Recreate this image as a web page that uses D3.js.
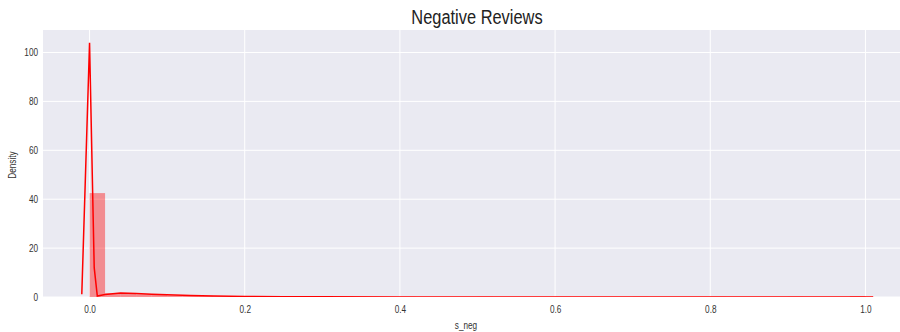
<!DOCTYPE html>
<html>
<head>
<meta charset="utf-8">
<script src="https://cdn.jsdelivr.net/npm/d3@7"></script>
<style>
  body { margin: 0; background: #fff; }
  text { font-family: Arial, "Liberation Sans", sans-serif; }
</style>
</head>
<body>
<div id="chart"></div>
<script>
// histogram bins (left edge, density)
var binEdges = [0.00, 0.02, 0.04, 0.06, 0.08, 0.10, 0.12, 0.14, 0.16, 0.18, 0.20, 0.24, 0.28, 0.32, 0.40, 0.50, 0.60, 0.70, 0.80, 0.90, 0.98]
var binValues = [42.5, 1.5, 1.4, 1.1, 0.9, 0.7, 0.5, 0.4, 0.3, 0.25, 0.2, 0.15, 0.12, 0.1, 0.06, 0.05, 0.04, 0.04, 0.04, 0.04, 0.3]
var binWidth = 0.02

// kde curve
var kdeX = [-0.010, 0.000, 0.006, 0.0100, 0.020, 0.040, 0.060, 0.080, 0.100, 0.130, 0.160, 0.200, 0.250, 0.300, 0.400, 0.500, 0.600, 0.700, 0.800, 0.900, 1.000, 1.010]
var kdeY = [1.1, 104, 12, 0.4, 1.0, 1.6, 1.4, 1.1, 0.9, 0.6, 0.4, 0.25, 0.15, 0.1, 0.0, 0.0, 0.0, 0.0, 0.0, 0.0, 0.0, 0.0]

var xTicks = [0.0, 0.2, 0.4, 0.6, 0.8, 1.0]
var yTicks = [0, 20, 40, 60, 80, 100]

var width = 900, height = 332
var margin = {top: 30, right: -12, bottom: 35, left: 43}

var svg = d3.select("#chart").append("svg")
    .attr("width", width)
    .attr("height", height)

var x = d3.scaleLinear().domain([-0.06, 1.06]).range([margin.left, width - margin.right])
var y = d3.scaleLinear().domain([0, 109.2]).range([height - margin.bottom, margin.top])

svg.append("clipPath").attr("id", "clip").append("rect")
    .attr("x", margin.left).attr("y", margin.top)
    .attr("width", width - margin.right - margin.left)
    .attr("height", height - margin.bottom - margin.top)

// panel
svg.append("rect")
    .attr("x", margin.left)
    .attr("y", margin.top)
    .attr("width", width - margin.right - margin.left)
    .attr("height", height - margin.bottom - margin.top)
    .attr("fill", "#eaeaf2")

// grid
svg.selectAll(".xgrid").data(xTicks).enter().append("line")
    .attr("x1", function(d){ return x(d) }).attr("x2", function(d){ return x(d) })
    .attr("y1", margin.top).attr("y2", height - margin.bottom)
    .attr("stroke", "#fff").attr("stroke-width", 1)
svg.selectAll(".ygrid").data(yTicks).enter().append("line")
    .attr("x1", margin.left).attr("x2", width)
    .attr("y1", function(d){ return y(d) }).attr("y2", function(d){ return y(d) })
    .attr("stroke", "#fff").attr("stroke-width", 1)

var plot = svg.append("g").attr("clip-path", "url(#clip)")

// histogram
plot.selectAll(".bar").data(binEdges).enter().append("rect")
    .attr("x", function(d){ return x(d) })
    .attr("y", function(d, i){ return y(binValues[i]) })
    .attr("width", function(d){ return x(d + binWidth) - x(d) })
    .attr("height", function(d, i){ return y(0) - y(binValues[i]) })
    .attr("fill", "red")
    .attr("fill-opacity", 0.4)

// kde
var line = d3.line()
    .x(function(d, i){ return x(kdeX[i]) })
    .y(function(d){ return y(d) })
plot.append("path")
    .attr("d", line(kdeY))
    .attr("fill", "none")
    .attr("stroke", "red")
    .attr("stroke-width", 1.5)

// axes
var xAxis = svg.append("g")
    .attr("transform", "translate(0," + (height - margin.bottom) + ")")
    .call(d3.axisBottom(x).tickValues(xTicks).tickFormat(d3.format(".1f")).tickSize(0).tickPadding(9))
var yAxis = svg.append("g")
    .attr("transform", "translate(" + margin.left + ",0)")
    .call(d3.axisLeft(y).tickValues(yTicks).tickSize(0).tickPadding(5))
xAxis.select(".domain").remove()
yAxis.select(".domain").remove()
svg.selectAll(".tick text").attr("font-size", "10px").attr("fill", "#333")
    .style("font-family", "Arial, 'Liberation Sans', sans-serif")

svg.append("text")
    .attr("x", 477).attr("y", 24)
    .attr("text-anchor", "middle")
    .attr("font-size", "20px")
    .attr("fill", "#222")
    .text("Negative Reviews")

svg.append("text")
    .attr("x", 466).attr("y", 329)
    .attr("text-anchor", "middle")
    .attr("font-size", "10px")
    .attr("fill", "#333")
    .text("s_neg")

svg.append("text")
    .attr("transform", "translate(16,165) rotate(-90)")
    .attr("text-anchor", "middle")
    .attr("font-size", "10px")
    .attr("fill", "#333")
    .text("Density")

// the reference text is horizontally squeezed
svg.selectAll("text").each(function(){
    var len = this.getComputedTextLength()
    d3.select(this).attr("textLength", len * 0.82).attr("lengthAdjust", "spacingAndGlyphs")
})
</script>
</body>
</html>
